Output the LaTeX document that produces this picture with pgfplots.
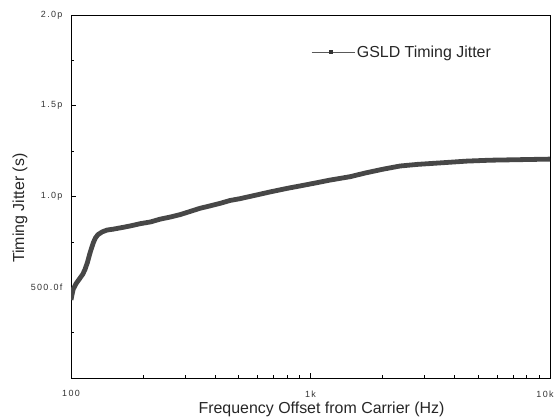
\documentclass[border=0pt]{standalone}
\usepackage{fontspec}
\setmainfont{Liberation Sans}
\newfontfamily\tickfont[LetterSpace=15]{Liberation Sans}
\usepackage{pgfplots}
\usepackage{pgfplotstable}
\pgfplotsset{compat=1.18}

% timing jitter (ps) versus offset frequency (Hz)
\pgfplotstableread{
f j
100 0.43
101 0.46
102.2 0.49
105 0.52
109 0.55
112 0.572
114.4 0.598
117 0.635
120.1 0.69
123.9 0.745
126.5 0.772
129.6 0.79
135 0.805
141.3 0.815
150 0.82
164.9 0.83
180 0.84
194.1 0.85
215 0.86
235.3 0.875
260 0.887
285.2 0.90
315 0.918
345.6 0.935
380 0.948
418.9 0.962
461 0.978
507.7 0.988
580 1.005
677 1.025
800 1.045
920 1.06
1044 1.074
1200 1.09
1462 1.109
1700 1.13
2000 1.15
2366 1.168
2800 1.177
3467 1.185
4500 1.195
5623 1.20
7500 1.203
10000 1.206
}\jitter

\begin{document}
\begin{tikzpicture}
\useasboundingbox (0,0) rectangle (556bp,418bp);
\begin{axis}[
  at={(71bp,40bp)}, anchor=south west,
  scale only axis, width=479bp, height=363bp,
  xmode=log, xmin=100, xmax=10000, ymin=0, ymax=2,
  xtick={100,1000}, xticklabels={100,1k},
  extra x ticks={10000}, extra x tick labels={10k},
  extra x tick style={xticklabel style={xshift=-5bp}},
  minor xtick={200,300,400,500,600,700,800,900,2000,3000,4000,5000,6000,7000,8000,9000},
  ytick={0.5,1,1.5,2}, yticklabels={500.0f,1.0p,1.5p,2.0p},
  minor ytick={0.25,0.75,1.25,1.75},
  xtick pos=bottom, ytick pos=left,
  tick align=inside, major tick length=5bp, minor tick length=3bp,
  tick style={black, line width=0.7bp},
  axis line style={line width=0.8bp},
  ticklabel style={font=\tickfont\fontsize{9}{10}\selectfont, text=black!80},
  xticklabel style={yshift=-9bp},
  yticklabel style={xshift=-5bp},
  xlabel={Frequency Offset from Carrier (Hz)},
  ylabel={Timing Jitter (s)},
  label style={font=\fontsize{16}{18}\selectfont, text=black!85},
  xlabel style={at={([yshift=-31bp]rel axis cs:0.523,0)}, anchor=center},
  ylabel style={at={([xshift=-51bp]rel axis cs:0,0.468)}, anchor=center},
  legend style={draw=none, fill=none, at={(rel axis cs:0.501,0.898)}, anchor=west,
    font=\fontsize{16}{18}\selectfont, text=black!85, inner sep=0pt, cells={anchor=west}},
  legend image code/.code={
    \draw[black!65, line width=0.7bp] (0bp,0bp) -- (43bp,0bp);
    \fill[black!80] (18bp,-1.5bp) rectangle (21bp,1.5bp);
  },
]
\addplot[draw=black!72, line width=4.8bp, line join=round, forget plot]
  table[x=f, y=j]{\jitter};
\addlegendimage{black}
\addlegendentry{GSLD Timing Jitter}
\end{axis}
\end{tikzpicture}
\end{document}
